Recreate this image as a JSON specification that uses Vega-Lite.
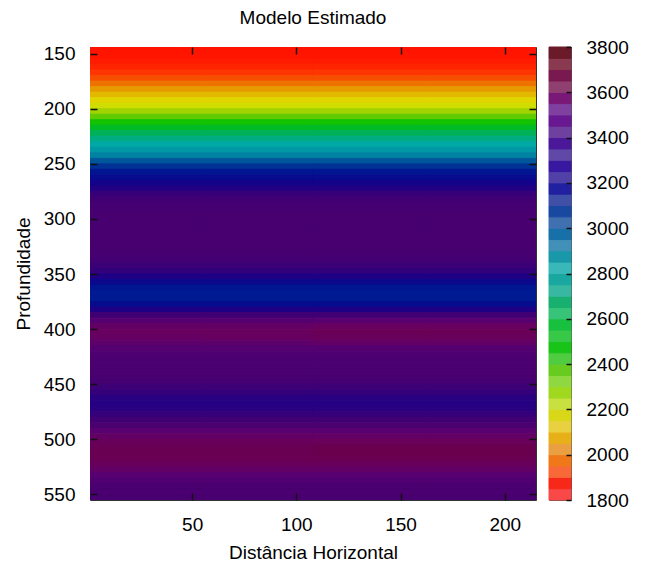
{
"$schema": "https://vega.github.io/schema/vega-lite/v6.json",
"padding": {"left": 13, "top": 8, "right": 5, "bottom": 5},
"config": {
  "font": "Liberation Sans",
  "view": {"stroke": "#333", "strokeWidth": 1},
  "axis": {"labelFont": "Liberation Sans", "labelFontSize": 19, "labelColor": "#000", "titleFont": "Liberation Sans", "titleFontSize": 19, "titleFontWeight": "normal", "titleColor": "#000", "grid": false, "domain": false, "ticks": true, "tickColor": "#111", "tickWidth": 1.5, "tickOpacity": 1, "labelFlush": false, "labelOverlap": false, "format": "d"},
  "title": {"font": "Liberation Sans", "fontSize": 19, "fontWeight": "normal", "color": "#000"},
  "concat": {"spacing": 10}
},
"resolve": {"scale": {"color": "independent", "stroke": "independent"}},
"datasets": {
"field": [
{"x0":1,"x1":54.5,"d0":140,"d1":145,"v":1820},{"x0":54.5,"x1":108,"d0":140,"d1":145,"v":1820},{"x0":108,"x1":161.5,"d0":140,"d1":145,"v":1820},{"x0":161.5,"x1":215,"d0":140,"d1":145,"v":1820},
{"x0":1,"x1":54.5,"d0":145,"d1":150,"v":1825},{"x0":54.5,"x1":108,"d0":145,"d1":150,"v":1825},{"x0":108,"x1":161.5,"d0":145,"d1":150,"v":1825},{"x0":161.5,"x1":215,"d0":145,"d1":150,"v":1825},
{"x0":1,"x1":54.5,"d0":150,"d1":155,"v":1830},{"x0":54.5,"x1":108,"d0":150,"d1":155,"v":1830},{"x0":108,"x1":161.5,"d0":150,"d1":155,"v":1830},{"x0":161.5,"x1":215,"d0":150,"d1":155,"v":1830},
{"x0":1,"x1":54.5,"d0":155,"d1":160,"v":1845},{"x0":54.5,"x1":108,"d0":155,"d1":160,"v":1845},{"x0":108,"x1":161.5,"d0":155,"d1":160,"v":1845},{"x0":161.5,"x1":215,"d0":155,"d1":160,"v":1845},
{"x0":1,"x1":54.5,"d0":160,"d1":165,"v":1870},{"x0":54.5,"x1":108,"d0":160,"d1":165,"v":1870},{"x0":108,"x1":161.5,"d0":160,"d1":165,"v":1870},{"x0":161.5,"x1":215,"d0":160,"d1":165,"v":1870},
{"x0":1,"x1":54.5,"d0":165,"d1":170,"v":1910},{"x0":54.5,"x1":108,"d0":165,"d1":170,"v":1910},{"x0":108,"x1":161.5,"d0":165,"d1":170,"v":1910},{"x0":161.5,"x1":215,"d0":165,"d1":170,"v":1910},
{"x0":1,"x1":54.5,"d0":170,"d1":175,"v":1960},{"x0":54.5,"x1":108,"d0":170,"d1":175,"v":1960},{"x0":108,"x1":161.5,"d0":170,"d1":175,"v":1960},{"x0":161.5,"x1":215,"d0":170,"d1":175,"v":1960},
{"x0":1,"x1":54.5,"d0":175,"d1":180,"v":2020},{"x0":54.5,"x1":108,"d0":175,"d1":180,"v":2020},{"x0":108,"x1":161.5,"d0":175,"d1":180,"v":2020},{"x0":161.5,"x1":215,"d0":175,"d1":180,"v":2020},
{"x0":1,"x1":54.5,"d0":180,"d1":185,"v":2080},{"x0":54.5,"x1":108,"d0":180,"d1":185,"v":2080},{"x0":108,"x1":161.5,"d0":180,"d1":185,"v":2080},{"x0":161.5,"x1":215,"d0":180,"d1":185,"v":2080},
{"x0":1,"x1":54.5,"d0":185,"d1":190,"v":2130},{"x0":54.5,"x1":108,"d0":185,"d1":190,"v":2130},{"x0":108,"x1":161.5,"d0":185,"d1":190,"v":2130},{"x0":161.5,"x1":215,"d0":185,"d1":190,"v":2130},
{"x0":1,"x1":54.5,"d0":190,"d1":195,"v":2180},{"x0":54.5,"x1":108,"d0":190,"d1":195,"v":2180},{"x0":108,"x1":161.5,"d0":190,"d1":195,"v":2180},{"x0":161.5,"x1":215,"d0":190,"d1":195,"v":2180},
{"x0":1,"x1":54.5,"d0":195,"d1":200,"v":2220},{"x0":54.5,"x1":108,"d0":195,"d1":200,"v":2220},{"x0":108,"x1":161.5,"d0":195,"d1":200,"v":2220},{"x0":161.5,"x1":215,"d0":195,"d1":200,"v":2220},
{"x0":1,"x1":54.5,"d0":200,"d1":205,"v":2280},{"x0":54.5,"x1":108,"d0":200,"d1":205,"v":2280},{"x0":108,"x1":161.5,"d0":200,"d1":205,"v":2280},{"x0":161.5,"x1":215,"d0":200,"d1":205,"v":2280},
{"x0":1,"x1":54.5,"d0":205,"d1":210,"v":2350},{"x0":54.5,"x1":108,"d0":205,"d1":210,"v":2350},{"x0":108,"x1":161.5,"d0":205,"d1":210,"v":2350},{"x0":161.5,"x1":215,"d0":205,"d1":210,"v":2350},
{"x0":1,"x1":54.5,"d0":210,"d1":215,"v":2430},{"x0":54.5,"x1":108,"d0":210,"d1":215,"v":2430},{"x0":108,"x1":161.5,"d0":210,"d1":215,"v":2430},{"x0":161.5,"x1":215,"d0":210,"d1":215,"v":2430},
{"x0":1,"x1":54.5,"d0":215,"d1":220,"v":2510},{"x0":54.5,"x1":108,"d0":215,"d1":220,"v":2510},{"x0":108,"x1":161.5,"d0":215,"d1":220,"v":2510},{"x0":161.5,"x1":215,"d0":215,"d1":220,"v":2510},
{"x0":1,"x1":54.5,"d0":220,"d1":225,"v":2590},{"x0":54.5,"x1":108,"d0":220,"d1":225,"v":2590},{"x0":108,"x1":161.5,"d0":220,"d1":225,"v":2590},{"x0":161.5,"x1":215,"d0":220,"d1":225,"v":2590},
{"x0":1,"x1":54.5,"d0":225,"d1":230,"v":2670},{"x0":54.5,"x1":108,"d0":225,"d1":230,"v":2670},{"x0":108,"x1":161.5,"d0":225,"d1":230,"v":2670},{"x0":161.5,"x1":215,"d0":225,"d1":230,"v":2670},
{"x0":1,"x1":54.5,"d0":230,"d1":235,"v":2740},{"x0":54.5,"x1":108,"d0":230,"d1":235,"v":2740},{"x0":108,"x1":161.5,"d0":230,"d1":235,"v":2740},{"x0":161.5,"x1":215,"d0":230,"d1":235,"v":2740},
{"x0":1,"x1":54.5,"d0":235,"d1":240,"v":2800},{"x0":54.5,"x1":108,"d0":235,"d1":240,"v":2800},{"x0":108,"x1":161.5,"d0":235,"d1":240,"v":2800},{"x0":161.5,"x1":215,"d0":235,"d1":240,"v":2800},
{"x0":1,"x1":54.5,"d0":240,"d1":245,"v":2870},{"x0":54.5,"x1":108,"d0":240,"d1":245,"v":2870},{"x0":108,"x1":161.5,"d0":240,"d1":245,"v":2870},{"x0":161.5,"x1":215,"d0":240,"d1":245,"v":2870},
{"x0":1,"x1":54.5,"d0":245,"d1":250,"v":2970},{"x0":54.5,"x1":108,"d0":245,"d1":250,"v":2970},{"x0":108,"x1":161.5,"d0":245,"d1":250,"v":2970},{"x0":161.5,"x1":215,"d0":245,"d1":250,"v":2970},
{"x0":1,"x1":54.5,"d0":250,"d1":255,"v":3040},{"x0":54.5,"x1":108,"d0":250,"d1":255,"v":3040},{"x0":108,"x1":161.5,"d0":250,"d1":255,"v":3040},{"x0":161.5,"x1":215,"d0":250,"d1":255,"v":3040},
{"x0":1,"x1":54.5,"d0":255,"d1":260,"v":3090},{"x0":54.5,"x1":108,"d0":255,"d1":260,"v":3090},{"x0":108,"x1":161.5,"d0":255,"d1":260,"v":3090},{"x0":161.5,"x1":215,"d0":255,"d1":260,"v":3090},
{"x0":1,"x1":54.5,"d0":260,"d1":265,"v":3130},{"x0":54.5,"x1":108,"d0":260,"d1":265,"v":3130},{"x0":108,"x1":161.5,"d0":260,"d1":265,"v":3130},{"x0":161.5,"x1":215,"d0":260,"d1":265,"v":3130},
{"x0":1,"x1":54.5,"d0":265,"d1":270,"v":3180},{"x0":54.5,"x1":108,"d0":265,"d1":270,"v":3180},{"x0":108,"x1":161.5,"d0":265,"d1":270,"v":3180},{"x0":161.5,"x1":215,"d0":265,"d1":270,"v":3180},
{"x0":1,"x1":54.5,"d0":270,"d1":275,"v":3230},{"x0":54.5,"x1":108,"d0":270,"d1":275,"v":3230},{"x0":108,"x1":161.5,"d0":270,"d1":275,"v":3230},{"x0":161.5,"x1":215,"d0":270,"d1":275,"v":3230},
{"x0":1,"x1":54.5,"d0":275,"d1":280,"v":3300},{"x0":54.5,"x1":108,"d0":275,"d1":280,"v":3300},{"x0":108,"x1":161.5,"d0":275,"d1":280,"v":3300},{"x0":161.5,"x1":215,"d0":275,"d1":280,"v":3300},
{"x0":1,"x1":54.5,"d0":280,"d1":285,"v":3350},{"x0":54.5,"x1":108,"d0":280,"d1":285,"v":3350},{"x0":108,"x1":161.5,"d0":280,"d1":285,"v":3350},{"x0":161.5,"x1":215,"d0":280,"d1":285,"v":3350},
{"x0":1,"x1":54.5,"d0":285,"d1":290,"v":3380},{"x0":54.5,"x1":108,"d0":285,"d1":290,"v":3380},{"x0":108,"x1":161.5,"d0":285,"d1":290,"v":3380},{"x0":161.5,"x1":215,"d0":285,"d1":290,"v":3380},
{"x0":1,"x1":54.5,"d0":290,"d1":295,"v":3390},{"x0":54.5,"x1":108,"d0":290,"d1":295,"v":3390},{"x0":108,"x1":161.5,"d0":290,"d1":295,"v":3390},{"x0":161.5,"x1":215,"d0":290,"d1":295,"v":3390},
{"x0":1,"x1":54.5,"d0":295,"d1":300,"v":3400},{"x0":54.5,"x1":108,"d0":295,"d1":300,"v":3400},{"x0":108,"x1":161.5,"d0":295,"d1":300,"v":3400},{"x0":161.5,"x1":215,"d0":295,"d1":300,"v":3400},
{"x0":1,"x1":54.5,"d0":300,"d1":305,"v":3400},{"x0":54.5,"x1":108,"d0":300,"d1":305,"v":3400},{"x0":108,"x1":161.5,"d0":300,"d1":305,"v":3400},{"x0":161.5,"x1":215,"d0":300,"d1":305,"v":3400},
{"x0":1,"x1":54.5,"d0":305,"d1":310,"v":3400},{"x0":54.5,"x1":108,"d0":305,"d1":310,"v":3400},{"x0":108,"x1":161.5,"d0":305,"d1":310,"v":3400},{"x0":161.5,"x1":215,"d0":305,"d1":310,"v":3400},
{"x0":1,"x1":54.5,"d0":310,"d1":315,"v":3400},{"x0":54.5,"x1":108,"d0":310,"d1":315,"v":3400},{"x0":108,"x1":161.5,"d0":310,"d1":315,"v":3400},{"x0":161.5,"x1":215,"d0":310,"d1":315,"v":3400},
{"x0":1,"x1":54.5,"d0":315,"d1":320,"v":3400},{"x0":54.5,"x1":108,"d0":315,"d1":320,"v":3400},{"x0":108,"x1":161.5,"d0":315,"d1":320,"v":3400},{"x0":161.5,"x1":215,"d0":315,"d1":320,"v":3400},
{"x0":1,"x1":54.5,"d0":320,"d1":325,"v":3400},{"x0":54.5,"x1":108,"d0":320,"d1":325,"v":3400},{"x0":108,"x1":161.5,"d0":320,"d1":325,"v":3400},{"x0":161.5,"x1":215,"d0":320,"d1":325,"v":3400},
{"x0":1,"x1":54.5,"d0":325,"d1":330,"v":3395},{"x0":54.5,"x1":108,"d0":325,"d1":330,"v":3395},{"x0":108,"x1":161.5,"d0":325,"d1":330,"v":3395},{"x0":161.5,"x1":215,"d0":325,"d1":330,"v":3395},
{"x0":1,"x1":54.5,"d0":330,"d1":335,"v":3390},{"x0":54.5,"x1":108,"d0":330,"d1":335,"v":3390},{"x0":108,"x1":161.5,"d0":330,"d1":335,"v":3390},{"x0":161.5,"x1":215,"d0":330,"d1":335,"v":3390},
{"x0":1,"x1":54.5,"d0":335,"d1":340,"v":3370},{"x0":54.5,"x1":108,"d0":335,"d1":340,"v":3370},{"x0":108,"x1":161.5,"d0":335,"d1":340,"v":3370},{"x0":161.5,"x1":215,"d0":335,"d1":340,"v":3370},
{"x0":1,"x1":54.5,"d0":340,"d1":345,"v":3320},{"x0":54.5,"x1":108,"d0":340,"d1":345,"v":3320},{"x0":108,"x1":161.5,"d0":340,"d1":345,"v":3320},{"x0":161.5,"x1":215,"d0":340,"d1":345,"v":3320},
{"x0":1,"x1":54.5,"d0":345,"d1":350,"v":3280},{"x0":54.5,"x1":108,"d0":345,"d1":350,"v":3280},{"x0":108,"x1":161.5,"d0":345,"d1":350,"v":3280},{"x0":161.5,"x1":215,"d0":345,"d1":350,"v":3280},
{"x0":1,"x1":54.5,"d0":350,"d1":355,"v":3220},{"x0":54.5,"x1":108,"d0":350,"d1":355,"v":3220},{"x0":108,"x1":161.5,"d0":350,"d1":355,"v":3220},{"x0":161.5,"x1":215,"d0":350,"d1":355,"v":3220},
{"x0":1,"x1":54.5,"d0":355,"d1":360,"v":3150},{"x0":54.5,"x1":108,"d0":355,"d1":360,"v":3150},{"x0":108,"x1":161.5,"d0":355,"d1":360,"v":3150},{"x0":161.5,"x1":215,"d0":355,"d1":360,"v":3150},
{"x0":1,"x1":54.5,"d0":360,"d1":365,"v":3090},{"x0":54.5,"x1":108,"d0":360,"d1":365,"v":3090},{"x0":108,"x1":161.5,"d0":360,"d1":365,"v":3090},{"x0":161.5,"x1":215,"d0":360,"d1":365,"v":3090},
{"x0":1,"x1":54.5,"d0":365,"d1":370,"v":3080},{"x0":54.5,"x1":108,"d0":365,"d1":370,"v":3080},{"x0":108,"x1":161.5,"d0":365,"d1":370,"v":3080},{"x0":161.5,"x1":215,"d0":365,"d1":370,"v":3080},
{"x0":1,"x1":54.5,"d0":370,"d1":375,"v":3080},{"x0":54.5,"x1":108,"d0":370,"d1":375,"v":3080},{"x0":108,"x1":161.5,"d0":370,"d1":375,"v":3080},{"x0":161.5,"x1":215,"d0":370,"d1":375,"v":3080},
{"x0":1,"x1":54.5,"d0":375,"d1":380,"v":3120},{"x0":54.5,"x1":108,"d0":375,"d1":380,"v":3120},{"x0":108,"x1":161.5,"d0":375,"d1":380,"v":3120},{"x0":161.5,"x1":215,"d0":375,"d1":380,"v":3120},
{"x0":1,"x1":54.5,"d0":380,"d1":385,"v":3220},{"x0":54.5,"x1":108,"d0":380,"d1":385,"v":3220},{"x0":108,"x1":161.5,"d0":380,"d1":385,"v":3220},{"x0":161.5,"x1":215,"d0":380,"d1":385,"v":3220},
{"x0":1,"x1":54.5,"d0":385,"d1":390,"v":3350},{"x0":54.5,"x1":108,"d0":385,"d1":390,"v":3350},{"x0":108,"x1":161.5,"d0":385,"d1":390,"v":3350},{"x0":161.5,"x1":215,"d0":385,"d1":390,"v":3350},
{"x0":1,"x1":54.5,"d0":390,"d1":395,"v":3480},{"x0":54.5,"x1":108,"d0":390,"d1":395,"v":3480},{"x0":108,"x1":161.5,"d0":390,"d1":395,"v":3500},{"x0":161.5,"x1":215,"d0":390,"d1":395,"v":3500},
{"x0":1,"x1":54.5,"d0":395,"d1":400,"v":3570},{"x0":54.5,"x1":108,"d0":395,"d1":400,"v":3570},{"x0":108,"x1":161.5,"d0":395,"d1":400,"v":3600},{"x0":161.5,"x1":215,"d0":395,"d1":400,"v":3600},
{"x0":1,"x1":54.5,"d0":400,"d1":405,"v":3600},{"x0":54.5,"x1":108,"d0":400,"d1":405,"v":3610},{"x0":108,"x1":161.5,"d0":400,"d1":405,"v":3640},{"x0":161.5,"x1":215,"d0":400,"d1":405,"v":3640},
{"x0":1,"x1":54.5,"d0":405,"d1":410,"v":3590},{"x0":54.5,"x1":108,"d0":405,"d1":410,"v":3600},{"x0":108,"x1":161.5,"d0":405,"d1":410,"v":3630},{"x0":161.5,"x1":215,"d0":405,"d1":410,"v":3630},
{"x0":1,"x1":54.5,"d0":410,"d1":415,"v":3540},{"x0":54.5,"x1":108,"d0":410,"d1":415,"v":3540},{"x0":108,"x1":161.5,"d0":410,"d1":415,"v":3560},{"x0":161.5,"x1":215,"d0":410,"d1":415,"v":3560},
{"x0":1,"x1":54.5,"d0":415,"d1":420,"v":3480},{"x0":54.5,"x1":108,"d0":415,"d1":420,"v":3480},{"x0":108,"x1":161.5,"d0":415,"d1":420,"v":3480},{"x0":161.5,"x1":215,"d0":415,"d1":420,"v":3480},
{"x0":1,"x1":54.5,"d0":420,"d1":425,"v":3440},{"x0":54.5,"x1":108,"d0":420,"d1":425,"v":3440},{"x0":108,"x1":161.5,"d0":420,"d1":425,"v":3440},{"x0":161.5,"x1":215,"d0":420,"d1":425,"v":3440},
{"x0":1,"x1":54.5,"d0":425,"d1":430,"v":3420},{"x0":54.5,"x1":108,"d0":425,"d1":430,"v":3420},{"x0":108,"x1":161.5,"d0":425,"d1":430,"v":3420},{"x0":161.5,"x1":215,"d0":425,"d1":430,"v":3420},
{"x0":1,"x1":54.5,"d0":430,"d1":435,"v":3410},{"x0":54.5,"x1":108,"d0":430,"d1":435,"v":3410},{"x0":108,"x1":161.5,"d0":430,"d1":435,"v":3410},{"x0":161.5,"x1":215,"d0":430,"d1":435,"v":3410},
{"x0":1,"x1":54.5,"d0":435,"d1":440,"v":3410},{"x0":54.5,"x1":108,"d0":435,"d1":440,"v":3410},{"x0":108,"x1":161.5,"d0":435,"d1":440,"v":3410},{"x0":161.5,"x1":215,"d0":435,"d1":440,"v":3410},
{"x0":1,"x1":54.5,"d0":440,"d1":445,"v":3400},{"x0":54.5,"x1":108,"d0":440,"d1":445,"v":3400},{"x0":108,"x1":161.5,"d0":440,"d1":445,"v":3400},{"x0":161.5,"x1":215,"d0":440,"d1":445,"v":3400},
{"x0":1,"x1":54.5,"d0":445,"d1":450,"v":3380},{"x0":54.5,"x1":108,"d0":445,"d1":450,"v":3380},{"x0":108,"x1":161.5,"d0":445,"d1":450,"v":3380},{"x0":161.5,"x1":215,"d0":445,"d1":450,"v":3380},
{"x0":1,"x1":54.5,"d0":450,"d1":455,"v":3340},{"x0":54.5,"x1":108,"d0":450,"d1":455,"v":3340},{"x0":108,"x1":161.5,"d0":450,"d1":455,"v":3340},{"x0":161.5,"x1":215,"d0":450,"d1":455,"v":3340},
{"x0":1,"x1":54.5,"d0":455,"d1":460,"v":3290},{"x0":54.5,"x1":108,"d0":455,"d1":460,"v":3290},{"x0":108,"x1":161.5,"d0":455,"d1":460,"v":3290},{"x0":161.5,"x1":215,"d0":455,"d1":460,"v":3290},
{"x0":1,"x1":54.5,"d0":460,"d1":465,"v":3250},{"x0":54.5,"x1":108,"d0":460,"d1":465,"v":3250},{"x0":108,"x1":161.5,"d0":460,"d1":465,"v":3250},{"x0":161.5,"x1":215,"d0":460,"d1":465,"v":3250},
{"x0":1,"x1":54.5,"d0":465,"d1":470,"v":3240},{"x0":54.5,"x1":108,"d0":465,"d1":470,"v":3240},{"x0":108,"x1":161.5,"d0":465,"d1":470,"v":3240},{"x0":161.5,"x1":215,"d0":465,"d1":470,"v":3240},
{"x0":1,"x1":54.5,"d0":470,"d1":475,"v":3250},{"x0":54.5,"x1":108,"d0":470,"d1":475,"v":3250},{"x0":108,"x1":161.5,"d0":470,"d1":475,"v":3250},{"x0":161.5,"x1":215,"d0":470,"d1":475,"v":3250},
{"x0":1,"x1":54.5,"d0":475,"d1":480,"v":3290},{"x0":54.5,"x1":108,"d0":475,"d1":480,"v":3290},{"x0":108,"x1":161.5,"d0":475,"d1":480,"v":3290},{"x0":161.5,"x1":215,"d0":475,"d1":480,"v":3290},
{"x0":1,"x1":54.5,"d0":480,"d1":485,"v":3350},{"x0":54.5,"x1":108,"d0":480,"d1":485,"v":3350},{"x0":108,"x1":161.5,"d0":480,"d1":485,"v":3350},{"x0":161.5,"x1":215,"d0":480,"d1":485,"v":3350},
{"x0":1,"x1":54.5,"d0":485,"d1":490,"v":3420},{"x0":54.5,"x1":108,"d0":485,"d1":490,"v":3420},{"x0":108,"x1":161.5,"d0":485,"d1":490,"v":3420},{"x0":161.5,"x1":215,"d0":485,"d1":490,"v":3420},
{"x0":1,"x1":54.5,"d0":490,"d1":495,"v":3500},{"x0":54.5,"x1":108,"d0":490,"d1":495,"v":3500},{"x0":108,"x1":161.5,"d0":490,"d1":495,"v":3500},{"x0":161.5,"x1":215,"d0":490,"d1":495,"v":3500},
{"x0":1,"x1":54.5,"d0":495,"d1":500,"v":3570},{"x0":54.5,"x1":108,"d0":495,"d1":500,"v":3570},{"x0":108,"x1":161.5,"d0":495,"d1":500,"v":3570},{"x0":161.5,"x1":215,"d0":495,"d1":500,"v":3570},
{"x0":1,"x1":54.5,"d0":500,"d1":505,"v":3620},{"x0":54.5,"x1":108,"d0":500,"d1":505,"v":3620},{"x0":108,"x1":161.5,"d0":500,"d1":505,"v":3630},{"x0":161.5,"x1":215,"d0":500,"d1":505,"v":3630},
{"x0":1,"x1":54.5,"d0":505,"d1":510,"v":3650},{"x0":54.5,"x1":108,"d0":505,"d1":510,"v":3650},{"x0":108,"x1":161.5,"d0":505,"d1":510,"v":3670},{"x0":161.5,"x1":215,"d0":505,"d1":510,"v":3670},
{"x0":1,"x1":54.5,"d0":510,"d1":515,"v":3660},{"x0":54.5,"x1":108,"d0":510,"d1":515,"v":3660},{"x0":108,"x1":161.5,"d0":510,"d1":515,"v":3680},{"x0":161.5,"x1":215,"d0":510,"d1":515,"v":3680},
{"x0":1,"x1":54.5,"d0":515,"d1":520,"v":3650},{"x0":54.5,"x1":108,"d0":515,"d1":520,"v":3650},{"x0":108,"x1":161.5,"d0":515,"d1":520,"v":3660},{"x0":161.5,"x1":215,"d0":515,"d1":520,"v":3660},
{"x0":1,"x1":54.5,"d0":520,"d1":525,"v":3620},{"x0":54.5,"x1":108,"d0":520,"d1":525,"v":3620},{"x0":108,"x1":161.5,"d0":520,"d1":525,"v":3620},{"x0":161.5,"x1":215,"d0":520,"d1":525,"v":3620},
{"x0":1,"x1":54.5,"d0":525,"d1":530,"v":3560},{"x0":54.5,"x1":108,"d0":525,"d1":530,"v":3560},{"x0":108,"x1":161.5,"d0":525,"d1":530,"v":3560},{"x0":161.5,"x1":215,"d0":525,"d1":530,"v":3560},
{"x0":1,"x1":54.5,"d0":530,"d1":535,"v":3500},{"x0":54.5,"x1":108,"d0":530,"d1":535,"v":3500},{"x0":108,"x1":161.5,"d0":530,"d1":535,"v":3500},{"x0":161.5,"x1":215,"d0":530,"d1":535,"v":3500},
{"x0":1,"x1":54.5,"d0":535,"d1":540,"v":3450},{"x0":54.5,"x1":108,"d0":535,"d1":540,"v":3450},{"x0":108,"x1":161.5,"d0":535,"d1":540,"v":3450},{"x0":161.5,"x1":215,"d0":535,"d1":540,"v":3450},
{"x0":1,"x1":54.5,"d0":540,"d1":545,"v":3420},{"x0":54.5,"x1":108,"d0":540,"d1":545,"v":3420},{"x0":108,"x1":161.5,"d0":540,"d1":545,"v":3420},{"x0":161.5,"x1":215,"d0":540,"d1":545,"v":3420},
{"x0":1,"x1":54.5,"d0":545,"d1":550,"v":3410},{"x0":54.5,"x1":108,"d0":545,"d1":550,"v":3410},{"x0":108,"x1":161.5,"d0":545,"d1":550,"v":3410},{"x0":161.5,"x1":215,"d0":545,"d1":550,"v":3410},
{"x0":1,"x1":54.5,"d0":550,"d1":555,"v":3400},{"x0":54.5,"x1":108,"d0":550,"d1":555,"v":3400},{"x0":108,"x1":161.5,"d0":550,"d1":555,"v":3400},{"x0":161.5,"x1":215,"d0":550,"d1":555,"v":3400}
],
"bar": [
{"lo":1800,"hi":1850,"v":1825},{"lo":1850,"hi":1900,"v":1875},{"lo":1900,"hi":1950,"v":1925},{"lo":1950,"hi":2000,"v":1975},
{"lo":2000,"hi":2050,"v":2025},{"lo":2050,"hi":2100,"v":2075},{"lo":2100,"hi":2150,"v":2125},{"lo":2150,"hi":2200,"v":2175},
{"lo":2200,"hi":2250,"v":2225},{"lo":2250,"hi":2300,"v":2275},{"lo":2300,"hi":2350,"v":2325},{"lo":2350,"hi":2400,"v":2375},
{"lo":2400,"hi":2450,"v":2425},{"lo":2450,"hi":2500,"v":2475},{"lo":2500,"hi":2550,"v":2525},{"lo":2550,"hi":2600,"v":2575},
{"lo":2600,"hi":2650,"v":2625},{"lo":2650,"hi":2700,"v":2675},{"lo":2700,"hi":2750,"v":2725},{"lo":2750,"hi":2800,"v":2775},
{"lo":2800,"hi":2850,"v":2825},{"lo":2850,"hi":2900,"v":2875},{"lo":2900,"hi":2950,"v":2925},{"lo":2950,"hi":3000,"v":2975},
{"lo":3000,"hi":3050,"v":3025},{"lo":3050,"hi":3100,"v":3075},{"lo":3100,"hi":3150,"v":3125},{"lo":3150,"hi":3200,"v":3175},
{"lo":3200,"hi":3250,"v":3225},{"lo":3250,"hi":3300,"v":3275},{"lo":3300,"hi":3350,"v":3325},{"lo":3350,"hi":3400,"v":3375},
{"lo":3400,"hi":3450,"v":3425},{"lo":3450,"hi":3500,"v":3475},{"lo":3500,"hi":3550,"v":3525},{"lo":3550,"hi":3600,"v":3575},
{"lo":3600,"hi":3650,"v":3625},{"lo":3650,"hi":3700,"v":3675},{"lo":3700,"hi":3750,"v":3725},{"lo":3750,"hi":3800,"v":3775}
]
},
"hconcat": [
{
  "title": {"text": "Modelo Estimado", "anchor": "middle", "offset": 12},
  "width": 446, "height": 453,
  "data": {"name": "field"},
  "layer": [
    {"mark": {"type": "rect", "clip": true, "strokeWidth": 1},
     "encoding": {
       "x": {"field": "x0", "type": "quantitative", "scale": {"domain": [1, 215], "nice": false, "zero": false},
             "axis": {"orient": "bottom", "values": [50, 100, 150, 200], "offset": -7, "tickSize": 7, "labelPadding": 15, "title": "Distância Horizontal", "titlePadding": 9, "zindex": 1}},
       "x2": {"field": "x1"},
       "y": {"field": "d0", "type": "quantitative", "scale": {"domain": [144, 555], "reverse": true, "nice": false, "zero": false},
             "axis": {"orient": "left", "values": [150, 200, 250, 300, 350, 400, 450, 500, 550], "offset": -7, "tickSize": 7, "labelPadding": 15, "title": "Profundidade", "titlePadding": 10, "zindex": 1}},
       "y2": {"field": "d1"},
       "color": {"field": "v", "type": "quantitative", "legend": null,
                 "scale": {"type": "linear", "interpolate": "rgb",
                           "domain": [1800, 1900, 2000, 2100, 2200, 2300, 2450, 2600, 2750, 2900, 3000, 3100, 3200, 3300, 3400, 3500, 3600, 3700, 3800],
                           "range": ["#ff0a00", "#ff3000", "#f06400", "#e4a800", "#e0e000", "#90d000", "#00c000", "#00b060", "#00a8a8", "#0078a0", "#004898", "#001090", "#180088", "#380078", "#480070", "#580070", "#680060", "#6a0048", "#600030"]}},
       "stroke": {"field": "v", "type": "quantitative", "legend": null,
                 "scale": {"type": "linear", "interpolate": "rgb",
                           "domain": [1800, 1900, 2000, 2100, 2200, 2300, 2450, 2600, 2750, 2900, 3000, 3100, 3200, 3300, 3400, 3500, 3600, 3700, 3800],
                           "range": ["#ff0a00", "#ff3000", "#f06400", "#e4a800", "#e0e000", "#90d000", "#00c000", "#00b060", "#00a8a8", "#0078a0", "#004898", "#001090", "#180088", "#380078", "#480070", "#580070", "#680060", "#6a0048", "#600030"]}}
     }},
    {"mark": {"type": "point", "opacity": 0},
     "encoding": {
       "x": {"field": "x0", "type": "quantitative", "axis": {"orient": "top", "values": [50, 100, 150, 200], "offset": -7, "tickSize": 7, "labels": false, "title": null, "zindex": 1}},
       "y": {"field": "d0", "type": "quantitative", "axis": {"orient": "right", "values": [150, 200, 250, 300, 350, 400, 450, 500, 550], "offset": -7, "tickSize": 7, "labels": false, "title": null, "zindex": 1}}
     }}
  ],
  "resolve": {"axis": {"x": "independent", "y": "independent"}}
},
{
  "width": 22, "height": 453,
  "data": {"name": "bar"},
  "view": {"stroke": "#555"},
  "mark": {"type": "rect", "strokeWidth": 1},
  "encoding": {
    "y": {"field": "lo", "type": "quantitative", "scale": {"domain": [1800, 3800], "nice": false, "zero": false},
          "axis": {"orient": "right", "values": [1800, 2000, 2200, 2400, 2600, 2800, 3000, 3200, 3400, 3600, 3800], "offset": -5, "tickSize": 5, "labelPadding": 15, "title": null, "zindex": 1}},
    "y2": {"field": "hi"},
    "color": {"field": "v", "type": "quantitative", "legend": null,
              "scale": {"type": "threshold",
                        "domain": [1850, 1900, 1950, 2000, 2050, 2100, 2150, 2200, 2250, 2300, 2350, 2400, 2450, 2500, 2550, 2600, 2650, 2700, 2750, 2800, 2850, 2900, 2950, 3000, 3050, 3100, 3150, 3200, 3250, 3300, 3350, 3400, 3450, 3500, 3550, 3600, 3650, 3700, 3750],
                        "range": ["#f84848", "#f82818", "#f86838", "#f07818", "#eaa040", "#e8b018", "#e8d040", "#d8d818", "#c8e040", "#a0d820", "#90d840", "#68cc20", "#50cc40", "#18c418", "#38c848", "#18c040", "#38c478", "#18b070", "#38b8a0", "#18a8a0", "#38b8b8", "#1898a8", "#4090b8", "#1870a8", "#4070b0", "#1848a0", "#4050a8", "#2020a0", "#5040a8", "#3818a0", "#6048a8", "#4a1898", "#7040a0", "#681890", "#8040a0", "#7a1878", "#904070", "#7a1850", "#8a3a50", "#6a1a28"]}},
    "stroke": {"field": "v", "type": "quantitative", "legend": null,
              "scale": {"type": "threshold",
                        "domain": [1850, 1900, 1950, 2000, 2050, 2100, 2150, 2200, 2250, 2300, 2350, 2400, 2450, 2500, 2550, 2600, 2650, 2700, 2750, 2800, 2850, 2900, 2950, 3000, 3050, 3100, 3150, 3200, 3250, 3300, 3350, 3400, 3450, 3500, 3550, 3600, 3650, 3700, 3750],
                        "range": ["#f84848", "#f82818", "#f86838", "#f07818", "#eaa040", "#e8b018", "#e8d040", "#d8d818", "#c8e040", "#a0d820", "#90d840", "#68cc20", "#50cc40", "#18c418", "#38c848", "#18c040", "#38c478", "#18b070", "#38b8a0", "#18a8a0", "#38b8b8", "#1898a8", "#4090b8", "#1870a8", "#4070b0", "#1848a0", "#4050a8", "#2020a0", "#5040a8", "#3818a0", "#6048a8", "#4a1898", "#7040a0", "#681890", "#8040a0", "#7a1878", "#904070", "#7a1850", "#8a3a50", "#6a1a28"]}}
  }
}
]
}
